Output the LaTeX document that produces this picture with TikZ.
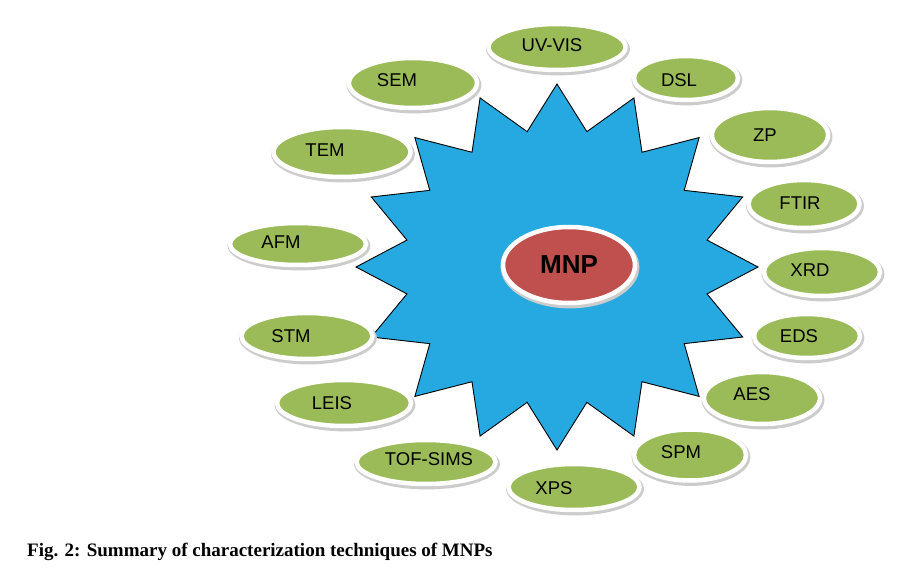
\documentclass[tikz,border=0pt]{standalone}
\usepackage{fontspec}
\setmainfont{Liberation Sans}
\newfontfamily\capfont{Liberation Serif}
\usetikzlibrary{shapes.geometric}
\definecolor{techgreen}{RGB}{155,187,89}
\definecolor{mnpred}{RGB}{192,80,77}
\definecolor{starblue}{RGB}{38,169,224}
\tikzset{
  starshape/.style={fill=starblue, draw=black, line width=0.9pt, line join=miter},
  shadowfill/.style={fill=black!20},
  techbg/.style={ellipse, fill=techgreen, draw=white, line width=4.5pt, inner sep=0pt},
  techtext/.style={font=\fontsize{18.5}{20}\selectfont, text=black, inner sep=0pt},
  mnpnode/.style={ellipse, fill=mnpred, draw=white, line width=4.5pt, inner sep=0pt,
    font=\bfseries\fontsize{26}{28}\selectfont, text=black},
  captext/.style={anchor=base west, inner sep=0pt, font=\capfont\bfseries\fontsize{19}{21}\selectfont}
}
% name, cx, cy, path width, path height, text x, text y, label
\newcommand\techitem[8]{%
  \fill[shadowfill] ({#2+1},{#3+2}) ellipse [x radius={#4/2+3.4}, y radius={#5/2+3.4}];
  \node[techbg, minimum width=#4pt, minimum height=#5pt] (#1-bg) at (#2,#3) {};
  \node[techtext] (#1) at (#6,#7) {#8};}
\begin{document}
\begin{tikzpicture}[x=1pt,y=-1pt]
\useasboundingbox (0,0) rectangle (906,575);
% star
\draw[starshape] (557,84)
  \foreach \i in {0,...,15}{
    -- ({557+153*sin(\i*22.5+11.25)},{267-138*cos(\i*22.5+11.25)})
    -- ({557+201*sin((\i+1)*22.5)},{267-183*cos((\i+1)*22.5)})
  } -- cycle;
% centre
\fill[shadowfill] (570,267) ellipse [x radius=69.4, y radius=41.4];
\node[mnpnode, minimum width=132pt, minimum height=76pt] (mnp) at (569,265) {MNP};
% techniques
\techitem{uvvis}{557}{47}{137}{46}{552}{45}{UV-VIS}
\techitem{dsl}{686}{78}{104}{44}{679}{80}{DSL}
\techitem{zp}{770}{135}{116}{54}{765}{135}{ZP}
\techitem{ftir}{804}{204}{111}{48}{800}{203}{FTIR}
\techitem{xrd}{822}{272}{116}{48}{810}{270}{XRD}
\techitem{eds}{807}{336}{106}{44}{799}{336}{EDS}
\techitem{aes}{762}{398}{116}{52}{752}{394}{AES}
\techitem{spm}{690}{455}{112}{51}{681}{452}{SPM}
\techitem{xps}{574}{487}{131}{46}{554}{488}{XPS}
\techitem{tofsims}{426}{462}{139}{44}{429}{459}{TOF-SIMS}
\techitem{leis}{344}{403}{134}{46}{332}{403}{LEIS}
\techitem{stm}{307}{336}{131}{46}{291}{336}{STM}
\techitem{afm}{298}{244}{136}{42}{281}{242}{AFM}
\techitem{tem}{342}{152}{137}{50}{325}{150}{TEM}
\techitem{sem}{413}{83}{128}{50}{397}{80}{SEM}
% caption
\node[captext] (caption) at (27,556) {Fig. 2: Summary of characterization techniques of MNPs};
\end{tikzpicture}
\end{document}
